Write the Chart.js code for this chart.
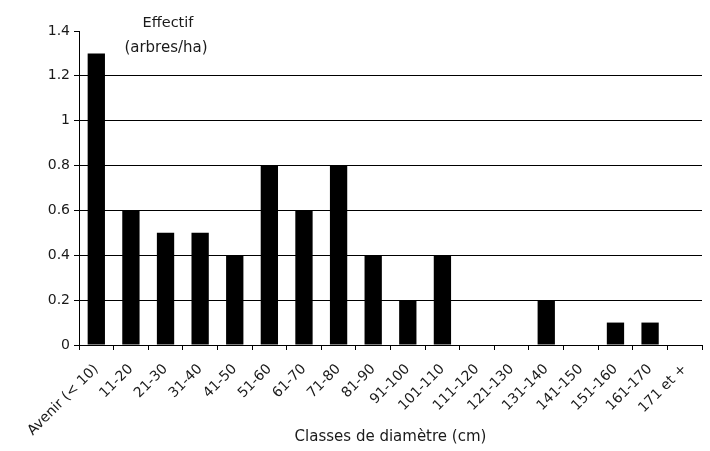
<!DOCTYPE html>
<html>
<head>
<meta charset="utf-8">
<script src="https://cdn.jsdelivr.net/npm/chart.js@4"></script>
<style>
html,body{margin:0;padding:0;background:#fff;}
#wrap{width:710px;height:451px;}
</style>
</head>
<body>
<div id="wrap"><canvas id="c" width="710" height="451"></canvas></div>
<script>
const categories = ["Avenir (< 10)","11-20","21-30","31-40","41-50","51-60","61-70","71-80","81-90","91-100","101-110","111-120","121-130","131-140","141-150","151-160","161-170","171 et +"];
const effectif = [1.3,0.6,0.5,0.5,0.4,0.8,0.6,0.8,0.4,0.2,0.4,0,0,0.2,0,0.1,0.1,0];
const yTitleLines = ["Effectif","(arbres/ha)"];
const xTitle = "Classes de diamètre (cm)";

const FONT = "'DejaVu Sans', Verdana, sans-serif";
const TXT = "#1a1a1a";

const titlePlugin = {
  id: 'titles',
  afterDraw(chart){
    const ctx = chart.ctx, a = chart.chartArea;
    ctx.save();
    ctx.fillStyle = TXT;
    ctx.textAlign = 'center';
    ctx.textBaseline = 'middle';
    ctx.font = "14.5px " + FONT;
    ctx.fillText(yTitleLines[0], a.left + 89, 23);
    ctx.font = "15px " + FONT;
    ctx.fillText(yTitleLines[1], a.left + 87, 48);
    ctx.fillText(xTitle, (a.left + a.right) / 2, 437);
    ctx.restore();
  }
};

new Chart(document.getElementById('c'), {
  type: 'bar',
  data: {
    labels: categories,
    datasets: [{
      data: effectif,
      backgroundColor: '#000',
      borderWidth: 0,
      barPercentage: 0.5,
      categoryPercentage: 1.0
    }]
  },
  options: {
    responsive: false,
    animation: false,
    devicePixelRatio: 1,
    layout: { padding: { top: 31, right: 8, left: 0, bottom: 0 } },
    plugins: { legend: { display: false }, tooltip: { enabled: false }, title: { display: false } },
    scales: {
      x: {
        offset: true,
        afterFit(scale){ scale.height = 106; },
        grid: { display: true, drawOnChartArea: false, drawTicks: true, tickLength: 5, offset: true, color: '#000', tickColor: '#000' },
        border: { display: true, color: '#000', width: 1 },
        ticks: { color: TXT, font: { size: 14, family: FONT }, maxRotation: 45, minRotation: 45, autoSkip: false, padding: 11 },
        title: { display: false }
      },
      y: {
        min: 0, max: 1.4,
        afterFit(scale){ scale.width = 79; },
        ticks: { stepSize: 0.2, color: TXT, font: { size: 14, family: FONT }, padding: 4,
          callback: v => String(Math.round(v*10)/10) },
        grid: { drawTicks: true, tickLength: 5, tickColor: '#000',
          color: c => (c.tick && Math.abs(c.tick.value - 1.4) < 1e-6) ? 'rgba(0,0,0,0)' : '#000', lineWidth: 1 },
        border: { display: true, color: '#000', width: 1 }
      }
    }
  },
  plugins: [titlePlugin]
});
</script>
</body>
</html>
